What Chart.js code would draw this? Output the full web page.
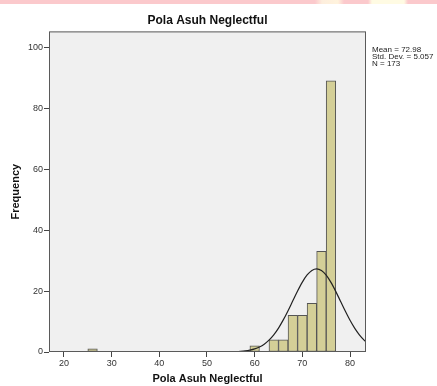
<!DOCTYPE html>
<html>
<head>
<meta charset="utf-8">
<script src="https://cdn.jsdelivr.net/npm/chart.js@4"></script>
<style>
    body { margin: 0; background: #fff; }
    #wrap { position: relative; width: 437px; height: 386px; }
    #strip {
        position: absolute; left: 0; top: 0; width: 437px; height: 4px;
        background: linear-gradient(to right, #fbc9cc 0, #fbc9cc 315px, #fdeedd 322px, #fff3dd 338px, #fbc9cc 344px,
            #fbc9cc 368px, #fffbe3 372px, #fffbe3 404px, #fbc9cc 408px, #fbc9cc 437px);
    }
</style>
</head>
<body>
<div id="wrap">
    <div id="strip"></div>
    <canvas id="histChart" width="437" height="386"></canvas>
</div>
<script>
// histogram bins (centre of each 2-unit bin) and counts
const binCenters = [26, 60, 64, 66, 68, 70, 72, 74, 76];
const binCounts = [1, 2, 4, 4, 12, 12, 16, 33, 89];

// fitted normal curve
const curveX = [17, 45, 50, 52, 54, 55, 56, 57, 58, 59, 60, 61, 62, 63, 64, 65, 66, 67, 68, 69, 70, 71, 72, 73, 74, 75, 76, 77, 78, 79, 80, 81, 82, 83, 83.35];
const curveY = [0, 0, 0, 0.01, 0.02, 0.05, 0.1, 0.19, 0.34, 0.6, 1.01, 1.65, 2.58, 3.89, 5.64, 7.85, 10.53, 13.56, 16.8, 20.02, 22.94, 25.28, 26.78, 27.29, 26.74, 25.2, 22.84, 19.9, 16.67, 13.44, 10.41, 7.76, 5.56, 3.83, 3.33];

const xTicks = [20, 30, 40, 50, 60, 70, 80];
const yTicks = [0, 20, 40, 60, 80, 100];

const statLines = ['Mean = 72.98', 'Std. Dev. = 5.057', 'N = 173'];

const frame = {
    id: 'frame',
    beforeDatasetsDraw(chart) {
        const a = chart.chartArea;
        const ctx = chart.ctx;
        ctx.save();
        ctx.fillStyle = '#f0f0f0';
        ctx.fillRect(a.left, a.top, a.right - a.left, a.bottom - a.top);
        ctx.restore();
    },
    afterDraw(chart) {
        const a = chart.chartArea;
        const ctx = chart.ctx;
        ctx.save();
        ctx.strokeStyle = '#5a5a5a';
        ctx.lineWidth = 1;
        ctx.strokeRect(a.left + 0.5, a.top + 0.5, a.right - a.left - 1, a.bottom - a.top - 1);
        ctx.fillStyle = '#222';
        ctx.font = '8px "Liberation Sans", Arial, sans-serif';
        ctx.textBaseline = 'middle';
        statLines.forEach((t, i) => ctx.fillText(t, a.right + 6, 50 + i * 7));
        ctx.restore();
    }
};

const ctx = document.getElementById('histChart').getContext('2d');
new Chart(ctx, {
    data: {
        datasets: [{
            type: 'line',
            data: curveX.map((x, i) => ({ x: x, y: curveY[i] })),
            borderColor: '#222',
            borderWidth: 1.2,
            pointRadius: 0,
            tension: 0.4,
            cubicInterpolationMode: 'monotone',
            clip: 0,
            order: 0
        }, {
            type: 'bar',
            data: binCenters.map((x, i) => ({ x: x, y: binCounts[i] })),
            backgroundColor: '#d4cf97',
            borderColor: '#555',
            borderWidth: 1,
            borderSkipped: false,
            barPercentage: 1,
            categoryPercentage: 1,
            order: 1
        }]
    },
    options: {
        responsive: false,
        animation: false,
        layout: { padding: { left: 0, right: 71, top: 0, bottom: 0 } },
        plugins: {
            legend: { display: false },
            tooltip: { enabled: false },
            title: {
                display: true,
                text: 'Pola Asuh Neglectful',
                fullSize: false,
                color: '#111',
                font: { family: '"Liberation Sans", Arial, sans-serif', size: 12, weight: 'bold', lineHeight: 1.2 },
                padding: { top: 13, bottom: 4 }
            }
        },
        scales: {
            x: {
                type: 'linear',
                offset: false,
                min: 16.86,
                max: 83.35,
                afterFit: s => { s.height = 34; },
                afterBuildTicks: s => { s.ticks = xTicks.map(v => ({ value: v })); },
                ticks: { color: '#333', font: { family: '"Liberation Sans", Arial, sans-serif', size: 9 }, padding: 1, maxRotation: 0 },
                grid: { offset: false, drawOnChartArea: false, tickLength: 5, color: '#444' },
                border: { display: false },
                title: {
                    display: true,
                    text: 'Pola Asuh Neglectful',
                    color: '#111',
                    font: { family: '"Liberation Sans", Arial, sans-serif', size: 11, weight: 'bold' },
                    padding: { top: 5, bottom: 0 }
                }
            },
            y: {
                min: 0,
                max: 105.2,
                afterFit: s => { s.width = 49; },
                afterBuildTicks: s => { s.ticks = yTicks.map(v => ({ value: v })); },
                ticks: { color: '#333', font: { family: '"Liberation Sans", Arial, sans-serif', size: 9 }, padding: 1 },
                grid: { drawOnChartArea: false, tickLength: 5, color: '#444' },
                border: { display: false },
                title: {
                    display: true,
                    text: 'Frequency',
                    color: '#111',
                    font: { family: '"Liberation Sans", Arial, sans-serif', size: 11, weight: 'bold' },
                    padding: { top: 9, bottom: 0 }
                }
            }
        }
    },
    plugins: [frame]
});
</script>
</body>
</html>
